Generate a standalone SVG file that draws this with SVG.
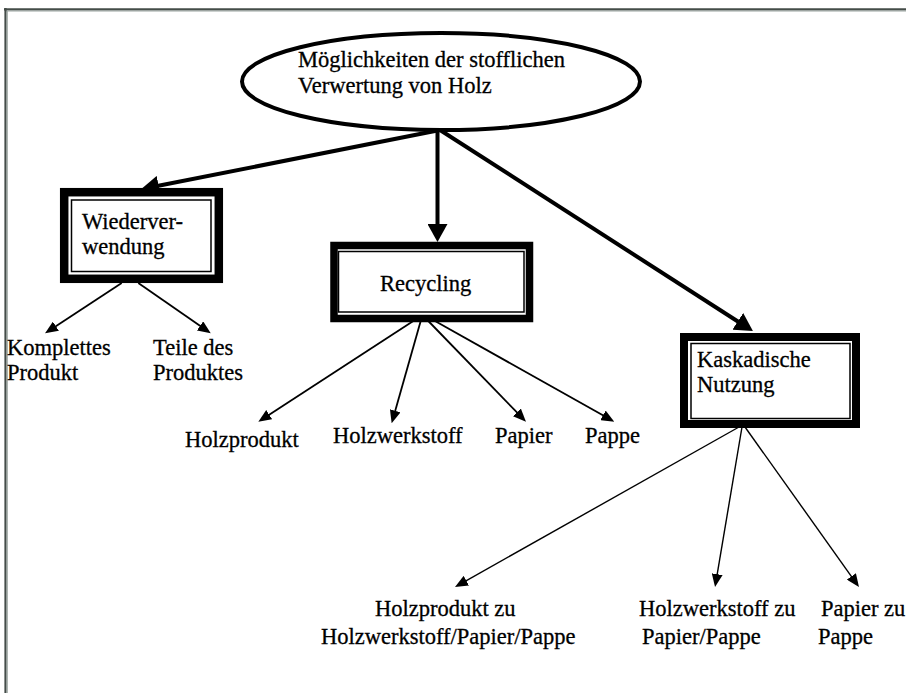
<svg xmlns="http://www.w3.org/2000/svg" width="906" height="693" viewBox="0 0 906 693">
<style>
  text { font-family: "Liberation Serif", "Times New Roman", serif; font-size: 22.5px; fill: #000; stroke: #000; stroke-width: 0.3; }
  .main { stroke: #000; stroke-width: 4; fill: none; }
  .thin { stroke: #000; stroke-width: 1.8; fill: none; }
  .band { fill: #fff; stroke: #000; }
  .inner { fill: none; stroke: #000; stroke-width: 1.5; }
</style>
<defs>
  <marker id="big" markerUnits="userSpaceOnUse" viewBox="0 0 18 20" refX="8" refY="10" markerWidth="18" markerHeight="20" orient="auto">
    <path d="M0,0 L18,10 L0,20 z" fill="#000"/>
  </marker>
  <marker id="small" markerUnits="userSpaceOnUse" viewBox="0 0 13 11" refX="6" refY="5.5" markerWidth="13" markerHeight="11" orient="auto">
    <path d="M0,0 L13,5.5 L0,11 z" fill="#000"/>
  </marker>
</defs>
<rect x="0" y="0" width="906" height="693" fill="#fff"/>
<g id="frame">
  <line x1="4" y1="9.3" x2="906" y2="9.3" stroke="#444c48" stroke-width="2.2"/>
  <line x1="6" y1="11" x2="906" y2="11" stroke="#9aa49f" stroke-width="1.2"/>
  <line x1="5.5" y1="8" x2="5.5" y2="693" stroke="#444c48" stroke-width="2.2"/>
  <line x1="7.2" y1="11" x2="7.2" y2="693" stroke="#9aa49f" stroke-width="1.2"/>
</g>
<g id="connectors">
  <line class="main" x1="440" y1="130" x2="150.8" y2="187.3" marker-end="url(#big)"/>
  <line class="main" x1="437.5" y1="130" x2="437.5" y2="232" marker-end="url(#big)"/>
  <line class="main" x1="440" y1="130" x2="744.5" y2="325.7" marker-end="url(#big)"/>
  <line class="thin" x1="121.7" y1="283" x2="50.9" y2="329.5" marker-end="url(#small)"/>
  <line class="thin" x1="138.3" y1="283" x2="205" y2="329.3" marker-end="url(#small)"/>
  <line class="thin" x1="413.3" y1="321" x2="264.2" y2="417.9" marker-end="url(#small)"/>
  <line class="thin" x1="420.7" y1="321" x2="393.6" y2="416.6" marker-end="url(#small)"/>
  <line class="thin" x1="428.3" y1="321" x2="521.1" y2="416.7" marker-end="url(#small)"/>
  <line class="thin" x1="435" y1="321" x2="608.2" y2="418.3" marker-end="url(#small)"/>
  <line class="thin" x1="739" y1="427" x2="461.1" y2="583.6" marker-end="url(#small)" style="stroke-width:1.4"/>
  <line class="thin" x1="742" y1="427" x2="716.2" y2="580.1" marker-end="url(#small)" style="stroke-width:1.4"/>
  <line class="thin" x1="745" y1="427" x2="854.9" y2="581.3" marker-end="url(#small)" style="stroke-width:1.4"/>
</g>
<g id="root">
  <ellipse cx="441" cy="81.5" rx="199" ry="48.5" fill="#fff" stroke="#000" stroke-width="4"/>
  <text x="298" y="67">Möglichkeiten der stofflichen</text>
  <text x="298" y="93">Verwertung von Holz</text>
</g>
<g id="wiederverwendung">
  <rect class="band" x="64.2" y="192.2" width="154.6" height="86.6" stroke-width="8.5"/>
  <rect class="inner" x="71.5" y="200" width="139.5" height="71.5"/>
  <text x="82" y="229">Wiederver-</text>
  <text x="82" y="254">wendung</text>
</g>
<g id="recycling">
  <rect class="band" x="334" y="245.5" width="195.5" height="73" stroke-width="7.5"/>
  <rect class="inner" x="338.5" y="251.5" width="185.5" height="60.5"/>
  <text x="380" y="291">Recycling</text>
</g>
<g id="kaskadische">
  <rect class="band" x="684" y="337" width="172" height="87" stroke-width="8"/>
  <rect class="inner" x="691" y="343.5" width="159" height="75"/>
  <text x="697" y="367">Kaskadische</text>
  <text x="697" y="392">Nutzung</text>
</g>
<g id="komplettes">
  <text x="7" y="355">Komplettes</text>
  <text x="7" y="380">Produkt</text>
</g>
<g id="teile">
  <text x="153" y="355">Teile des</text>
  <text x="153" y="380">Produktes</text>
</g>
<g id="holzprodukt"><text x="185" y="447">Holzprodukt</text></g>
<g id="holzwerkstoff"><text x="333" y="443">Holzwerkstoff</text></g>
<g id="papier"><text x="495" y="443">Papier</text></g>
<g id="pappe"><text x="585" y="443">Pappe</text></g>
<g id="k1">
  <text x="375" y="616">Holzprodukt zu</text>
  <text x="321" y="644">Holzwerkstoff/Papier/Pappe</text>
</g>
<g id="k2">
  <text x="639" y="616">Holzwerkstoff zu</text>
  <text x="642" y="644">Papier/Pappe</text>
</g>
<g id="k3">
  <text x="821" y="616">Papier zu</text>
  <text x="818" y="644">Pappe</text>
</g>
</svg>
